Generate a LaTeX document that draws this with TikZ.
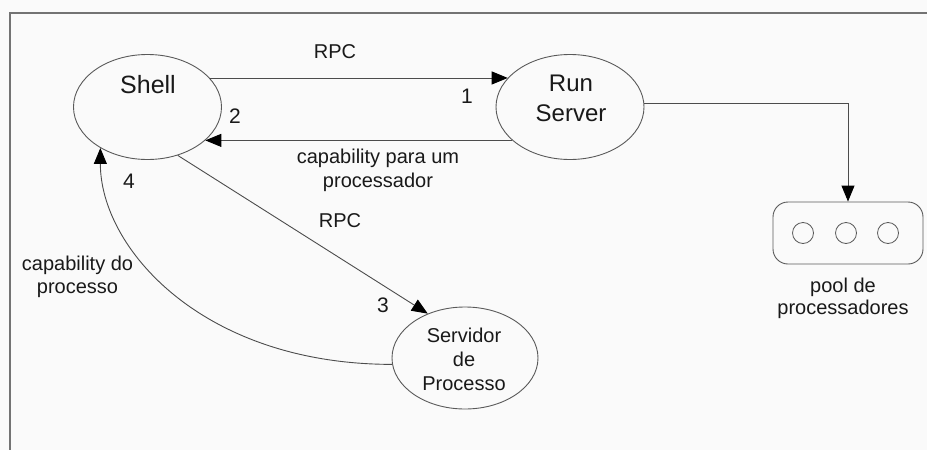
\documentclass[tikz,border=0pt]{standalone}
\usepackage{fontspec}
\setmainfont{Liberation Sans}
\usetikzlibrary{shapes.geometric,arrows.meta}
\tikzset{
  ell/.style={draw=black!65, line width=0.9pt, ellipse, inner sep=0pt},
  conn/.style={draw=black!70, line width=0.9pt},
  arr/.style={conn, -{Triangle[length=16pt,width=13pt,color=black]}},
  lbl/.style={inner sep=0pt, text=black!90, font=\fontsize{20}{24}\selectfont},
  big/.style={inner sep=0pt, text=black!90, font=\fontsize{24}{30}\selectfont},
  num/.style={inner sep=0pt, text=black!90, font=\fontsize{21}{25}\selectfont, anchor=base},
  proc/.style={draw=black!65, line width=0.8pt, circle, minimum size=21pt, inner sep=0pt}
}
\begin{document}
\begin{tikzpicture}[x=1pt,y=-1pt]
\useasboundingbox (0,0) rectangle (927,450);
\fill[black!2] (0,0) rectangle (927,450);
% frame
\coordinate (ftr) at (927,13);
\coordinate (ftl) at (10,13);
\coordinate (fbl) at (10,450);
\draw[black!55, line width=1.2pt] (ftr) -- (ftl) -- (fbl);

% main nodes
\node[ell, minimum width=148pt, minimum height=105pt] (shell) at (147.5,107) {};
\node[ell, minimum width=148pt, minimum height=105pt] (runserver) at (570,107) {};
\node[ell, minimum width=146pt, minimum height=102pt] (servidor) at (465,358) {};
\node[draw=black!65, line width=0.9pt, rounded corners=15pt, minimum width=150pt, minimum height=62pt, inner sep=0pt] (pool) at (848,233) {};
\node[proc] (p1) at (803,233) {};
\node[proc] (p2) at (846,233) {};
\node[proc] (p3) at (888,233) {};

% node texts
\node[inner sep=0pt, text=black!90, font=\fontsize{25}{30}\selectfont, anchor=base] (shelltxt) at (148,93) {Shell};
\node[big, align=center, anchor=north] (runtxt) at (571,74.8) {Run\\Server};
\node[lbl, align=center, anchor=north] (servtxt) at (464,327.4) {Servidor\\de\\Processo};

% connectors
\draw[arr] (shell.25) -- (runserver.155);
\draw[arr] (runserver.210) -- (shell.-30);
\draw[arr] (runserver.3) -| (pool.north);
\draw[arr] (shell.-58) -- (servidor.130);
\draw[arr] (servidor.185) .. controls +(-190,0) and +(0,100) .. (shell.221);

% labels
\node[lbl, anchor=base] (rpc1) at (335,58) {RPC};
\node[lbl, anchor=base] (rpc2) at (340,227) {RPC};
\node[num] (n1) at (467,103) {1};
\node[num] (n2) at (235,123) {2};
\node[num] (n3) at (383,312) {3};
\node[num] (n4) at (129,188) {4};
\node[lbl, align=center, anchor=north] (cap1) at (378,148.4) {capability para um\\processador};
\node[lbl, align=center, anchor=north, font=\fontsize{20}{23}\selectfont] (cap2) at (77.5,255.4) {capability do\\processo};
\node[lbl, align=center, anchor=north, font=\fontsize{20}{22}\selectfont] (pooltxt) at (843,277.4) {pool de\\processadores};
\end{tikzpicture}
\end{document}
